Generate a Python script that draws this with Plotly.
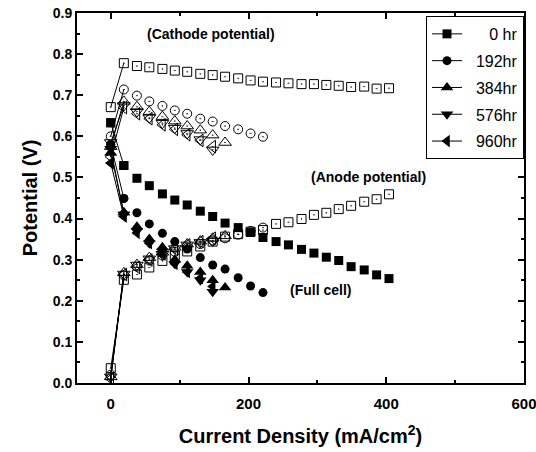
import plotly.graph_objects as go

# Current density (mA/cm2)
x_0hr = [0, 19, 38, 56, 75, 93, 111, 130, 148, 166, 185, 203, 221, 240, 258, 277, 295, 313, 331, 349, 368, 386, 404]
x_192hr = [0, 19, 38, 56, 75, 93, 111, 130, 148, 166, 185, 203, 221]
x_384hr = [0, 19, 38, 56, 75, 93, 111, 130, 148, 166]
x_576hr = [0, 19, 38, 56, 75, 93, 111, 130, 148]
x_960hr = [0, 19, 38, 56, 75, 93, 111, 130, 148]

# Full cell potential (V)
full_0hr = [0.633, 0.529, 0.498, 0.480, 0.460, 0.445, 0.433, 0.418, 0.405, 0.389, 0.378, 0.366, 0.354, 0.344, 0.336, 0.325, 0.316, 0.306, 0.298, 0.283, 0.275, 0.263, 0.254]
full_192hr = [0.580, 0.449, 0.414, 0.387, 0.364, 0.344, 0.326, 0.305, 0.287, 0.277, 0.256, 0.236, 0.220]
full_384hr = [0.560, 0.415, 0.380, 0.350, 0.330, 0.300, 0.285, 0.270, 0.250, 0.232]
full_576hr = [0.570, 0.410, 0.370, 0.340, 0.320, 0.290, 0.270, 0.250, 0.222]
full_960hr = [0.535, 0.405, 0.365, 0.340, 0.315, 0.290, 0.270, 0.255, 0.235]

# Cathode potential (V)
cath_0hr = [0.671, 0.778, 0.771, 0.768, 0.764, 0.760, 0.757, 0.752, 0.749, 0.745, 0.741, 0.736, 0.733, 0.731, 0.729, 0.727, 0.727, 0.725, 0.723, 0.720, 0.721, 0.716, 0.717]
cath_192hr = [0.600, 0.714, 0.699, 0.685, 0.674, 0.663, 0.655, 0.643, 0.636, 0.625, 0.617, 0.607, 0.599]
cath_384hr = [0.575, 0.685, 0.672, 0.660, 0.648, 0.637, 0.625, 0.615, 0.603, 0.585]
cath_576hr = [0.585, 0.675, 0.660, 0.645, 0.632, 0.620, 0.607, 0.592, 0.567]
cath_960hr = [0.550, 0.670, 0.655, 0.643, 0.628, 0.617, 0.604, 0.590, 0.575]

# Anode potential (V)
anode_0hr = [0.036, 0.251, 0.264, 0.281, 0.297, 0.309, 0.320, 0.332, 0.344, 0.356, 0.362, 0.368, 0.372, 0.387, 0.391, 0.399, 0.409, 0.414, 0.423, 0.431, 0.441, 0.447, 0.459]
anode_192hr = [0.020, 0.262, 0.283, 0.298, 0.310, 0.319, 0.329, 0.338, 0.347, 0.352, 0.361, 0.370, 0.378]
anode_384hr = [0.015, 0.268, 0.288, 0.305, 0.318, 0.330, 0.338, 0.345, 0.352, 0.358]
anode_576hr = [0.015, 0.265, 0.287, 0.302, 0.313, 0.327, 0.336, 0.342, 0.345]
anode_960hr = [0.010, 0.264, 0.281, 0.299, 0.314, 0.325, 0.336, 0.344, 0.352]

labels = ["\u00a0" * 5 + "0 hr", "\u00a0\u00a0192hr", "\u00a0\u00a0384hr", "\u00a0\u00a0576hr", "\u00a0\u00a0960hr"]

FONT = "Arial, Liberation Sans, sans-serif"

series = [
    (x_0hr, full_0hr, cath_0hr, anode_0hr, "square", 9),
    (x_192hr, full_192hr, cath_192hr, anode_192hr, "circle", 9),
    (x_384hr, full_384hr, cath_384hr, anode_384hr, "triangle-up", 11),
    (x_576hr, full_576hr, cath_576hr, anode_576hr, "triangle-down", 11),
    (x_960hr, full_960hr, cath_960hr, anode_960hr, "triangle-left", 11),
]

fig = go.Figure()

# electrode potentials: open symbols, thin line only on the first (steep) segment
for (xs, fu, ca, an, sym, sz), lab in zip(series, labels):
    for ys in (ca, an):
        fig.add_trace(go.Scatter(
            x=xs[:2], y=ys[:2], mode="lines", showlegend=False,
            line=dict(color="black", width=1), hoverinfo="skip",
        ))
        fig.add_trace(go.Scatter(
            x=xs, y=ys, mode="markers", showlegend=False,
            marker=dict(symbol=sym + "-open-dot", size=sz, color="black",
                        line=dict(color="black", width=1)),
        ))

# full cell: filled symbols
for i, ((xs, fu, ca, an, sym, sz), lab) in enumerate(zip(series, labels)):
    fig.add_trace(go.Scatter(
        x=xs[:2], y=fu[:2], mode="lines+markers", name=lab, legendgroup=f"g{i}",
        line=dict(color="black", width=1),
        marker=dict(symbol=sym, size=sz, color="black", line=dict(width=0)),
    ))
    fig.add_trace(go.Scatter(
        x=xs, y=fu, mode="markers", showlegend=False, legendgroup=f"g{i}",
        marker=dict(symbol=sym, size=sz, color="black", line=dict(width=0)),
    ))

fig.update_layout(
    width=536, height=452,
    margin=dict(l=77, r=12, t=13, b=69, autoexpand=False),
    paper_bgcolor="white", plot_bgcolor="white",
    font=dict(family=FONT, color="black"),
    showlegend=True,
    legend=dict(
        x=1.0, y=0.992, xanchor="right", yanchor="top",
        bgcolor="white", bordercolor="black", borderwidth=1,
        font=dict(family=FONT, size=16, color="black"),
        itemwidth=30, tracegroupgap=3,
    ),
    annotations=[
        dict(x=145, y=0.85, xref="x", yref="y", text="<b>(Cathode potential)</b>",
             showarrow=False, font=dict(family=FONT, size=14, color="black")),
        dict(x=374, y=0.50, xref="x", yref="y", text="<b>(Anode potential)</b>",
             showarrow=False, font=dict(family=FONT, size=14, color="black")),
        dict(x=305, y=0.226, xref="x", yref="y", text="<b>(Full cell)</b>",
             showarrow=False, font=dict(family=FONT, size=14, color="black")),
    ],
)

fig.update_xaxes(
    range=[-49, 600], tickvals=[0, 200, 400, 600], ticktext=["0", "200", "400", "600"],
    ticks="inside", ticklen=6, tickwidth=1.5, tickcolor="black", ticklabelstandoff=6,
    ticklabeloverflow="allow",
    minor=dict(tickvals=[100, 300, 500], ticks="inside", ticklen=3, tickcolor="black"),
    showline=True, linecolor="black", linewidth=2, mirror="ticks",
    showgrid=False, zeroline=False, automargin=False,
    tickfont=dict(family=FONT, size=15, color="black", weight="bold"),
    title=dict(text="<b>Current Density (mA/cm<sup>2</sup>)</b>",
               font=dict(family=FONT, size=20, color="black"), standoff=18),
)
fig.update_yaxes(
    range=[0, 0.9], dtick=0.1, tickformat=".1f",
    ticks="inside", ticklen=6, tickwidth=1.5, tickcolor="black",
    minor=dict(dtick=0.05, ticks="inside", ticklen=3, tickcolor="black"),
    showline=True, linecolor="black", linewidth=2, mirror="ticks",
    showgrid=False, zeroline=False, automargin=False,
    tickfont=dict(family=FONT, size=14, color="black", weight="bold"),
    title=dict(text="<b>Potential (V)</b>",
               font=dict(family=FONT, size=20, color="black"), standoff=10),
)

fig.write_html("out.html")
